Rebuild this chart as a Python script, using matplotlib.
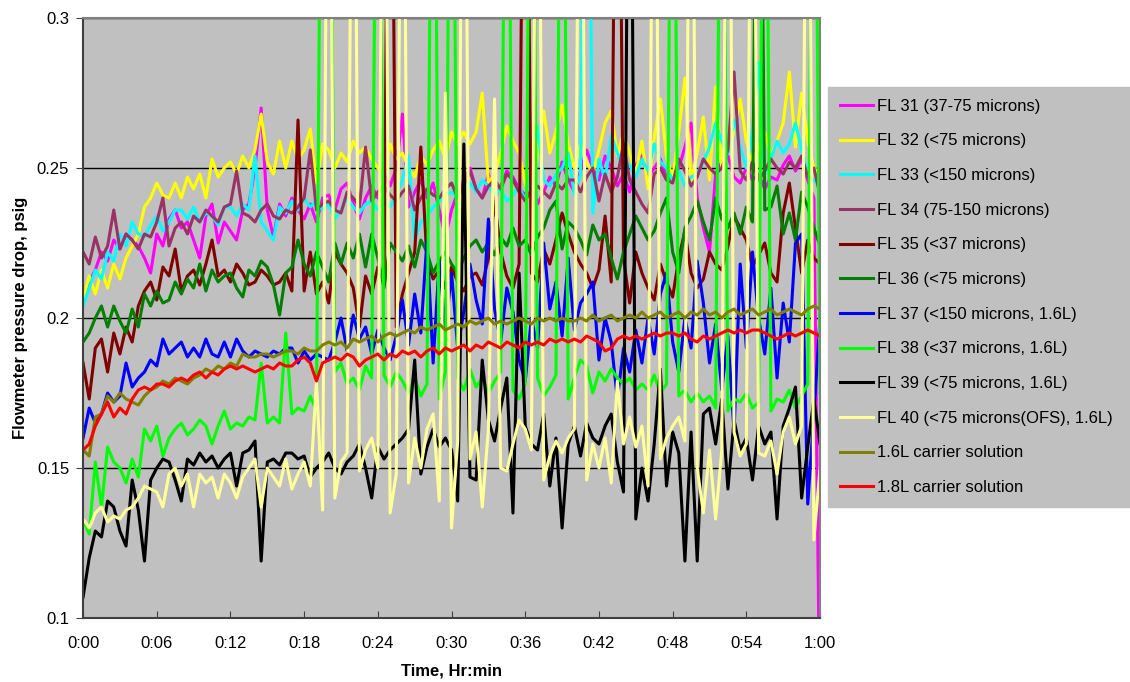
import numpy as np
import matplotlib
matplotlib.use('Agg')
import matplotlib.pyplot as plt

plt.rcParams['font.family'] = ['Liberation Sans', 'DejaVu Sans']

# Flowmeter readings every 30 s over one hour, in thousandths of psig.
# Values above 300 / below 100 are off the chart scale (spikes / drop-outs).
SAMPLE_STEP_MIN = 0.5

fl31 = [207, 212, 216, 222, 219, 226, 223, 228, 226, 224,
        220, 215, 228, 224, 233, 236, 230, 232, 226, 220,
        234, 238, 225, 232, 229, 226, 236, 238, 250, 270,
        236, 227, 238, 234, 240, 236, 233, 238, 232, 240,
        241, 236, 243, 245, 238, 233, 240, 244, 240, 248,
        244, 250, 268, 237, 242, 246, 240, 245, 236, 227,
        236, 242, 246, 250, 243, 240, 248, 240, 244, 249,
        247, 243, 241, 245, 238, 242, 247, 244, 252, 246,
        242, 249, 256, 250, 246, 254, 250, 244, 248, 242,
        251, 254, 247, 250, 253, 247, 246, 250, 257, 265,
        240, 230, 222, 248, 252, 254, 247, 245, 250, 246,
        248, 243, 247, 246, 251, 254, 249, 253, 246, 240,
        60]
fl32 = [206, 214, 208, 216, 210, 218, 213, 220, 224, 228,
        237, 240, 245, 241, 240, 245, 240, 247, 243, 248,
        240, 253, 247, 250, 252, 248, 254, 250, 256, 268,
        252, 248, 259, 250, 259, 253, 256, 263, 245, 258,
        256, 250, 255, 252, 259, 255, 257, 253, 250, 248,
        258, 253, 255, 250, 247, 254, 251, 256, 259, 253,
        262, 258, 262, 258, 262, 275, 245, 248, 255, 264,
        259, 255, 245, 239, 255, 269, 255, 262, 271, 258,
        250, 258, 252, 248, 256, 265, 269, 254, 262, 255,
        248, 259, 243, 260, 273, 254, 246, 262, 280, 246,
        255, 267, 246, 277, 250, 256, 262, 273, 259, 252,
        257, 262, 254, 259, 265, 282, 257, 275, 259, 250,
        248]
fl33 = [204, 210, 216, 213, 222, 219, 228, 224, 232, 228,
        227, 231, 234, 229, 232, 236, 236, 233, 237, 232,
        235, 234, 231, 237, 237, 234, 238, 236, 254, 232,
        229, 226, 237, 235, 239, 236, 240, 237, 239, 236,
        238, 233, 236, 240, 237, 235, 238, 239, 236, 240,
        237, 241, 246, 254, 226, 232, 234, 237, 239, 241,
        242, 240, 243, 245, 242, 246, 244, 241, 243, 239,
        241, 244, 239, 250, 264, 246, 244, 248, 250, 255,
        241, 248, 450, 235, 253, 246, 261, 255, 249, 251,
        247, 253, 249, 258, 252, 250, 246, 249, 244, 247,
        248, 252, 257, 265, 259, 255, 266, 257, 250, 262,
        285, 248, 253, 259, 255, 258, 265, 256, 248, 246,
        244]
fl34 = [222, 218, 227, 220, 224, 236, 223, 228, 226, 223,
        228, 227, 232, 240, 224, 230, 232, 228, 234, 232,
        236, 234, 232, 237, 238, 249, 235, 234, 232, 236,
        238, 234, 233, 236, 235, 237, 240, 256, 236, 238,
        239, 236, 235, 242, 240, 237, 257, 239, 242, 244,
        241, 239, 242, 244, 236, 240, 243, 241, 240, 243,
        245, 240, 244, 249, 243, 240, 244, 246, 243, 248,
        246, 242, 239, 243, 244, 242, 240, 245, 243, 246,
        246, 242, 247, 250, 239, 248, 242, 247, 258, 246,
        242, 238, 235, 248, 250, 246, 245, 253, 249, 244,
        247, 253, 250, 248, 250, 256, 282, 249, 246, 252,
        246, 249, 253, 250, 248, 252, 250, 254, 247, 250,
        241]
fl35 = [185, 173, 190, 193, 182, 195, 188, 197, 192, 204,
        209, 212, 206, 217, 214, 223, 209, 214, 216, 211,
        218, 226, 214, 216, 212, 218, 215, 211, 212, 216,
        214, 211, 212, 215, 209, 266, 209, 222, 208, 212,
        205, 222, 218, 215, 210, 197, 214, 208, 217, 212,
        450, 197, 208, 215, 222, 257, 219, 213, 216, 210,
        217, 212, 209, 214, 215, 211, 220, 239, 222, 214,
        210, 218, 450, 215, 212, 223, 218, 226, 235, 228,
        222, 218, 215, 210, 216, 234, 212, 450, 220, 205,
        222, 215, 210, 206, 218, 212, 207, 220, 229, 215,
        210, 213, 222, 218, 216, 224, 234, 230, 226, 217,
        221, 225, 215, 212, 235, 245, 230, 215, 226, 220,
        218]
fl36 = [192, 195, 200, 204, 197, 204, 199, 195, 203, 197,
        208, 204, 209, 205, 206, 212, 208, 213, 210, 218,
        209, 216, 212, 214, 215, 210, 207, 216, 214, 219,
        217, 211, 201, 215, 217, 226, 218, 214, 222, 217,
        212, 225, 218, 225, 220, 228, 217, 228, 220, 210,
        225, 222, 219, 224, 217, 226, 222, 215, 219, 222,
        218, 215, 220, 224, 226, 222, 225, 221, 227, 224,
        230, 224, 226, 221, 227, 230, 236, 239, 223, 232,
        230, 226, 221, 231, 226, 228, 220, 213, 222, 228,
        234, 230, 226, 229, 235, 240, 222, 215, 230, 234,
        239, 232, 226, 240, 233, 230, 235, 228, 237, 232,
        450, 236, 237, 244, 228, 235, 226, 242, 237, 230,
        224]
fl37 = [160, 170, 165, 168, 175, 172, 174, 185, 177, 180,
        182, 186, 184, 193, 188, 190, 192, 187, 190, 187,
        193, 188, 187, 192, 187, 193, 189, 187, 189, 188,
        187, 189, 188, 190, 190, 185, 189, 186, 188, 187,
        186, 192, 200, 189, 201, 193, 197, 188, 196, 190,
        186, 194, 206, 191, 208, 195, 226, 185, 219, 196,
        215, 190, 202, 218, 206, 198, 233, 203, 192, 210,
        202, 186, 179, 200, 190, 225, 203, 212, 194, 220,
        196, 205, 208, 212, 186, 200, 192, 173, 190, 182,
        196, 185, 200, 188, 208, 215, 192, 182, 200, 190,
        219, 205, 185, 198, 176, 194, 162, 218, 190, 222,
        200, 188, 210, 180, 205, 192, 225, 228, 138, 168,
        200]
fl38 = [133, 128, 152, 137, 157, 152, 150, 145, 153, 147,
        163, 159, 164, 154, 160, 163, 165, 161, 163, 166,
        164, 158, 164, 169, 163, 165, 164, 167, 166, 185,
        165, 167, 165, 195, 168, 170, 169, 174, 169, 450,
        450, 182, 185, 178, 180, 176, 184, 180, 450, 181,
        177, 182, 179, 175, 180, 174, 178, 450, 173, 182,
        450, 180, 176, 183, 177, 180, 175, 179, 182, 450,
        176, 173, 178, 450, 180, 174, 177, 181, 450, 173,
        180, 186, 184, 175, 182, 179, 183, 180, 178, 180,
        176, 178, 176, 181, 175, 178, 450, 174, 176, 172,
        175, 172, 174, 170, 450, 169, 173, 172, 175, 170,
        172, 450, 169, 173, 172, 176, 170, 174, 178, 450,
        175]
fl39 = [107, 120, 129, 127, 139, 137, 129, 124, 146, 136,
        119, 146, 150, 153, 152, 146, 139, 153, 151, 155,
        152, 154, 150, 153, 155, 144, 155, 156, 159, 119,
        152, 153, 151, 155, 155, 153, 154, 147, 150, 152,
        155, 150, 148, 152, 154, 158, 150, 140, 157, 153,
        156, 158, 160, 163, 186, 148, 157, 163, 157, 160,
        156, 139, 258, 147, 146, 186, 166, 159, 170, 180,
        135, 215, 164, 158, 156, 168, 144, 160, 130, 158,
        164, 154, 165, 160, 158, 164, 168, 152, 142, 450,
        133, 150, 139, 158, 183, 144, 162, 155, 119, 162,
        119, 168, 170, 158, 173, 143, 166, 156, 160, 146,
        164, 158, 162, 133, 164, 170, 177, 140, 157, 173,
        158]
fl40 = [133, 130, 135, 137, 132, 134, 133, 136, 137, 140,
        144, 143, 142, 137, 148, 150, 144, 148, 137, 148,
        145, 147, 140, 148, 145, 140, 147, 150, 153, 137,
        150, 147, 144, 153, 143, 148, 152, 144, 179, 136,
        450, 140, 152, 155, 450, 149, 156, 160, 150, 450,
        135, 148, 450, 145, 160, 150, 163, 168, 139, 275,
        130, 159, 450, 153, 162, 137, 163, 273, 150, 149,
        158, 166, 163, 156, 450, 146, 154, 159, 155, 160,
        163, 450, 146, 158, 150, 160, 145, 179, 158, 167,
        157, 164, 144, 450, 153, 160, 164, 167, 159, 450,
        150, 135, 156, 133, 156, 450, 162, 154, 158, 450,
        155, 154, 159, 148, 162, 167, 158, 164, 450, 126,
        150]
carrier_16 = [156, 154, 167, 168, 174, 172, 175, 173, 172, 171,
              174, 176, 177, 179, 178, 180, 179, 178, 180, 181,
              183, 182, 184, 183, 185, 184, 188, 187, 187, 188,
              188, 187, 188, 189, 189, 188, 190, 189, 189, 191,
              192, 191, 192, 190, 193, 192, 193, 194, 192, 194,
              195, 194, 195, 196, 195, 197, 196, 197, 198, 196,
              197, 198, 197, 199, 198, 199, 200, 198, 199, 198,
              199, 200, 199, 198, 200, 199, 200, 199, 200, 199,
              199, 200, 199, 201, 199, 200, 201, 199, 200, 201,
              200, 202, 200, 201, 202, 200, 201, 202, 200, 202,
              201, 203, 201, 202, 200, 202, 203, 201, 202, 203,
              201, 202, 203, 201, 202, 203, 202, 201, 203, 204,
              203]
carrier_18 = [156, 158, 164, 168, 172, 167, 170, 168, 173, 176,
              177, 176, 178, 178, 177, 179, 180, 179, 181, 182,
              180, 182, 181, 183, 184, 183, 184, 183, 182, 183,
              184, 183, 185, 184, 184, 186, 187, 185, 179, 185,
              186, 187, 186, 188, 187, 184, 186, 187, 188, 186,
              188, 187, 189, 188, 189, 187, 189, 190, 188, 190,
              189, 190, 191, 189, 191, 190, 192, 191, 190, 192,
              191, 190, 192, 191, 192, 191, 193, 192, 193, 192,
              193, 192, 194, 193, 192, 189, 190, 193, 194, 193,
              194, 193, 194, 195, 194, 195, 195, 194, 195, 193,
              192, 194, 193, 194, 195, 196, 195, 196, 195, 196,
              196, 195, 194, 193, 194, 195, 194, 195, 196, 195,
              194]

labels = ["FL 31 (37-75 microns)", "FL 32 (<75 microns)", "FL 33 (<150 microns)",
          "FL 34 (75-150 microns)", "FL 35 (<37 microns)", "FL 36 (<75 microns)",
          "FL 37 (<150 microns, 1.6L)", "FL 38 (<37 microns, 1.6L)",
          "FL 39 (<75 microns, 1.6L)", "FL 40 (<75 microns(OFS), 1.6L)",
          "1.6L carrier solution", "1.8L carrier solution"]
colors = ['#FF00FF', '#FFFF00', '#00FFFF', '#993366', '#800000', '#008000',
          '#0000FF', '#00FF00', '#000000', '#FFFF99', '#808000', '#FF0000']
all_series = [fl31, fl32, fl33, fl34, fl35, fl36, fl37, fl38, fl39, fl40,
              carrier_16, carrier_18]

x_ticks = [0, 6, 12, 18, 24, 30, 36, 42, 48, 54, 60]
x_tick_labels = ["0:00", "0:06", "0:12", "0:18", "0:24", "0:30",
                 "0:36", "0:42", "0:48", "0:54", "1:00"]
y_ticks = [0.1, 0.15, 0.2, 0.25, 0.3]
y_tick_labels = ["0.1", "0.15", "0.2", "0.25", "0.3"]

minutes = np.arange(len(fl31)) * SAMPLE_STEP_MIN

fig = plt.figure(figsize=(11.3, 6.82), dpi=100)
ax = fig.add_axes([0.0735, 0.0938, 0.6522, 0.8798])
ax.set_facecolor('#C0C0C0')

for vals, lab, col in zip(all_series, labels, colors):
    ax.plot(minutes, np.array(vals) / 1000.0, color=col, lw=2.2, label=lab,
            solid_joinstyle='round')

ax.set_xlim(0, 60)
ax.set_ylim(0.1, 0.3)
ax.set_xticks(x_ticks)
ax.set_xticklabels(x_tick_labels)
ax.set_yticks(y_ticks)
ax.set_yticklabels(y_tick_labels)
ax.yaxis.grid(True, color='black', lw=1.0)
ax.set_axisbelow(True)

ax.tick_params(axis='x', direction='in', length=5, pad=13, labelsize=12, color='#404040')
ax.tick_params(axis='y', direction='out', length=5, pad=5, labelsize=12, color='#404040')
for side in ['left', 'bottom']:
    ax.spines[side].set_color('#404040')
    ax.spines[side].set_linewidth(1.5)
for side in ['top', 'right']:
    ax.spines[side].set_color('#808080')
    ax.spines[side].set_linewidth(1.5)

ax.set_xlabel("Time, Hr:min", fontsize=12, fontweight='bold', labelpad=9)
ax.set_ylabel("Flowmeter pressure drop, psig", fontsize=12, fontweight='bold', labelpad=6)

leg = ax.legend(loc='upper left', bbox_to_anchor=(0.7327, 0.26, 0.2673, 0.6124),
                bbox_transform=fig.transFigure, mode='expand', fontsize=12,
                frameon=True, fancybox=False, handlelength=2.0, handletextpad=0.25,
                labelspacing=1.18, borderpad=0.7, borderaxespad=0)
leg.get_frame().set_facecolor('#C0C0C0')
leg.get_frame().set_edgecolor('#C0C0C0')
leg.get_frame().set_alpha(1)
for line in leg.get_lines():
    line.set_linewidth(2.2)

plt.savefig('out.png', dpi=100)
plt.close()
